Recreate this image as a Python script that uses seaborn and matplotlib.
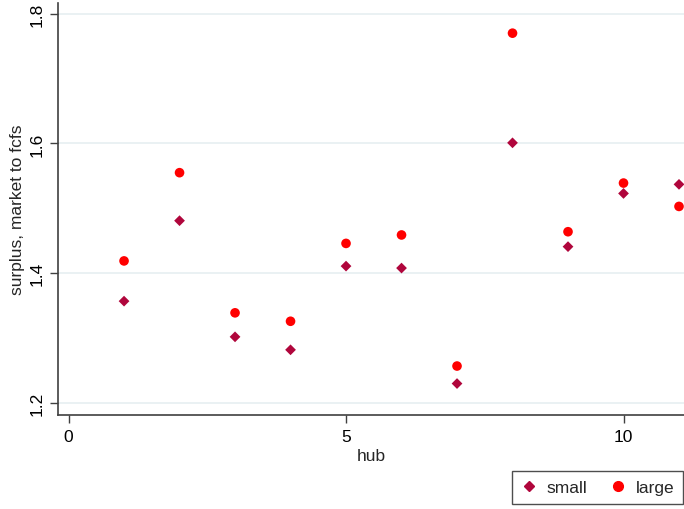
import matplotlib
matplotlib.use("Agg")
import matplotlib.pyplot as plt
import pandas as pd
import seaborn as sns

# values
hub = [1, 2, 3, 4, 5, 6, 7, 8, 9, 10, 11]
small = [1.357, 1.481, 1.302, 1.282, 1.411, 1.408, 1.230, 1.601, 1.441, 1.523, 1.537]
large = [1.419, 1.555, 1.339, 1.326, 1.446, 1.459, 1.257, 1.770, 1.464, 1.539, 1.503]
x_ticks = [0, 5, 10]
y_ticks = [1.2, 1.4, 1.6, 1.8]

df = pd.DataFrame({
    "hub": hub * 2,
    "surplus": small + large,
    "group": ["small"] * len(hub) + ["large"] * len(hub),
})

sns.set_style("white")
plt.rcParams["font.family"] = ["Liberation Sans", "DejaVu Sans"]

fig = plt.figure(figsize=(6.84, 5.10), dpi=100)
ax = fig.add_axes([58 / 684, 1 - 415.7 / 510, 1 - 58 / 684, (415.7 - 4) / 510])

sns.scatterplot(
    data=df, x="hub", y="surplus", hue="group", style="group",
    palette={"small": "#b0063c", "large": "#ff0000"},
    markers={"small": "D", "large": "o"},
    size="group", sizes={"small": 30, "large": 48},
    linewidth=0, ax=ax, legend=False, zorder=3,
)

ax.set_xlim(-0.19, 11.09)
ax.set_ylim(1.182, 1.8165)
ax.set_xticks(x_ticks)
ax.set_yticks(y_ticks)
ax.set_yticklabels([str(v) for v in y_ticks], rotation=90, va="center")
ax.tick_params(axis="both", which="major", bottom=True, left=True,
               direction="out", length=5.5, width=1, color="#404040",
               labelsize=12.5, labelcolor="black")
ax.tick_params(axis="y", pad=4)
ax.tick_params(axis="x", pad=4.5)
ax.grid(axis="y", color="#e8f0f2", linewidth=1.3)
ax.set_axisbelow(True)
for side in ["top", "right"]:
    ax.spines[side].set_visible(False)
for side in ["left", "bottom"]:
    ax.spines[side].set_color("#404040")
    ax.spines[side].set_linewidth(1.2)

ax.set_xlabel("hub", fontsize=12.5, labelpad=3)
ax.set_ylabel("surplus, market to fcfs", fontsize=12.5)
# label's right edge sits about 25 px from the image's left side
ax.yaxis.set_label_coords((25 - 58) / 626, 0.5)

handles = [
    plt.Line2D([], [], marker="D", color="#b0063c", linestyle="", markersize=5.5),
    plt.Line2D([], [], marker="o", color="#ff0000", linestyle="", markersize=7),
]
leg = fig.legend(handles, ["small", "large"], loc="lower right", ncol=2,
                 bbox_to_anchor=(683 / 684, 5 / 510), borderaxespad=0,
                 fontsize=12.5, frameon=True, fancybox=False,
                 handletextpad=0.5, columnspacing=1.3, borderpad=0.5,
                 handlelength=1.0)
leg.get_frame().set_edgecolor("#222222")
leg.get_frame().set_linewidth(1)

fig.savefig("out.png", dpi=100)
